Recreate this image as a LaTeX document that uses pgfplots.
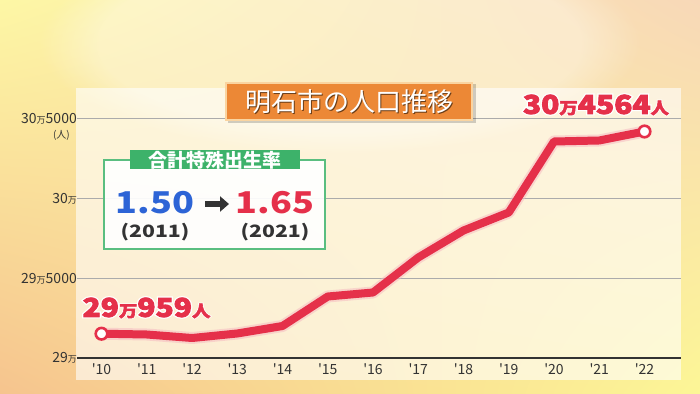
\documentclass[border=0pt]{standalone}
\usepackage{fontspec}
\usepackage{pgfplots}
\pgfplotsset{compat=1.18}
\usetikzlibrary{arrows.meta,fadings,shadings}
\setmainfont{Noto Sans CJK JP}
\newfontfamily\outfont{Noto Sans CJK JP}[BoldFeatures={FakeBold=12}]
\newfontfamily\heavyfont{Noto Sans CJK JP}[BoldFeatures={FakeBold=3}]
\definecolor{lred}{HTML}{E5304A}
\definecolor{lblue}{HTML}{2D64D6}
\definecolor{tgreen}{HTML}{3DB26A}
\definecolor{torange}{HTML}{EC8836}
\definecolor{tborder}{HTML}{FAD4A0}
\definecolor{darktxt}{HTML}{333333}
\definecolor{bgul}{HTML}{FDF7A5}
\definecolor{bgur}{HTML}{F8D8B8}
\definecolor{bgll}{HTML}{F6C48E}
\definecolor{bglr}{HTML}{FCF696}
\newcommand\fs[1]{\fontsize{#1}{#1}\selectfont}
\newcommand\vlab[2]{% position, text
  \node[text=white,inner sep=0] at (#1) {\outfont\bfseries #2};
  \node[text=lred,inner sep=0] at (#1) {\heavyfont\bfseries #2};}
\begin{document}
\begin{tikzpicture}[x=1pt,y=1pt]
\useasboundingbox (0,0) rectangle (700,393);
\shade[upper left=bgul, upper right=bgur, lower left=bgll, lower right=bglr] (0,0) rectangle (700,393);
\fill[white,opacity=0.35,path fading=circle with fuzzy edge 20 percent] (340,350) ellipse (300 and 110);
% panel
\fill[white,opacity=0.6] (76,13) rectangle (681,305);
\begin{axis}[
  at={(77pt,35pt)}, anchor=south west,
  width=604pt, height=239pt, scale only axis,
  xmin=9.4586, xmax=22.8066, ymin=290000, ymax=305000,
  clip=false,
  axis x line*=bottom, axis y line*=left,
  y axis line style={draw=none},
  x axis line style={draw=darktxt, line width=1.2pt, -},
  major tick length=0pt,
  ymajorgrids, grid style={draw=black!33, line width=1pt},
  xtick={10,...,22},
  xticklabels={\textquotesingle10,\textquotesingle11,\textquotesingle12,\textquotesingle13,\textquotesingle14,\textquotesingle15,\textquotesingle16,\textquotesingle17,\textquotesingle18,\textquotesingle19,\textquotesingle20,\textquotesingle21,\textquotesingle22},
  ytick={290000,295000,300000,305000},
  yticklabels={29{\fs{9}万},29{\fs{9}万}5000,30{\fs{9}万},30{\fs{9}万}5000},
  scaled y ticks=false,
  xticklabel style={font=\fs{14}, text=darktxt, yshift=-2.5pt},
  yticklabel style={font=\fs{14}, text=darktxt, xshift=1pt, inner sep=1pt},
]
\addplot[draw=lred!35, line width=12pt, opacity=0.5, line join=round, line cap=round] coordinates {
(10,291525) (11,291475) (12,291255) (13,291538) (14,292008) (15,293860) (16,294111)
(17,296307) (18,298002) (19,299132) (20,303588) (21,303651) (22,304216)};
\addplot[draw=lred, line width=8pt, line join=round, line cap=round] coordinates {
(10,291525) (11,291475) (12,291255) (13,291538) (14,292008) (15,293860) (16,294111)
(17,296307) (18,298002) (19,299132) (20,303588) (21,303651) (22,304216)};
\addplot[only marks, mark=*, mark size=5.8pt, mark options={fill=white, draw=lred, line width=2.6pt}] coordinates {(10,291525) (22,304216)};
\end{axis}
\node[text=darktxt,anchor=east,inner sep=0] at (70,258) {\fs{10}(人)};
% title
\fill[black,opacity=0.18] (228,270) rectangle (476,309);
\node[fill=torange, draw=tborder, line width=1.5pt, minimum width=246, minimum height=37, inner sep=0] at (349,291.5) {};
\node[text=black!55!torange,inner sep=0] at (350.3,290.2) {\fs{26}明石市の人口推移};
\node[text=white,inner sep=0] at (349,291.5) {\fs{26}明石市の人口推移};
% TFR box
\draw[draw=tgreen!85, line width=1.2pt, fill=white, fill opacity=0.92] (104,144) rectangle (325,233);
\node[fill=tgreen, minimum width=170, minimum height=19, inner sep=0] at (215,233) {};
\node[text=white,inner sep=0] at (215,233) {\bfseries\fs{19}合計特殊出生率};
\node[text=lblue,inner sep=0] at (155,190) {\scalebox{1.2}[1]{\bfseries\fs{30}1.50}};
\node[text=lred,inner sep=0] at (275,190) {\scalebox{1.2}[1]{\bfseries\fs{30}1.65}};
\draw[darktxt, line width=5.5pt, -{Triangle[length=9pt,width=15pt]}] (205,189) -- (229,189);
\node[text=darktxt,inner sep=0] at (155,161) {\scalebox{1.25}[1]{\bfseries\fs{17}(2011)}};
\node[text=darktxt,inner sep=0] at (275,161) {\scalebox{1.25}[1]{\bfseries\fs{17}(2021)}};
% value labels
\vlab{596,288}{\scalebox{1.15}[1]{\fs{26}30{\fs{16}万}4564{\fs{16}人}}}
\vlab{146.5,85}{\scalebox{1.15}[1]{\fs{26}29{\fs{16}万}959{\fs{16}人}}}
\end{tikzpicture}
\end{document}
